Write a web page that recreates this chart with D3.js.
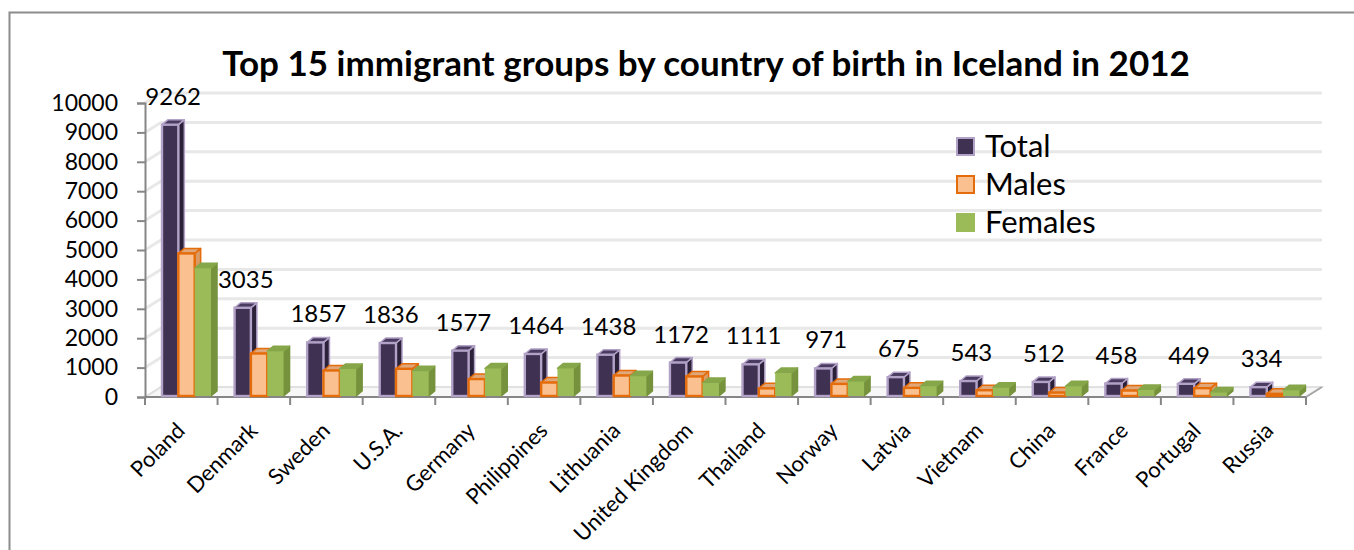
<!DOCTYPE html>
<html>
<head>
<meta charset="utf-8">
<script src="https://cdn.jsdelivr.net/npm/d3@7/dist/d3.min.js"></script>
<style>
  html, body { margin: 0; padding: 0; background: #fff; }
  svg { display: block; font-family: Lato, "Open Sans", sans-serif; }
</style>
</head>
<body>
<svg id="chart" width="1354" height="550"></svg>
<script>
// ---------------- data ----------------
const categories = ["Poland","Denmark","Sweden","U.S.A.","Germany","Philippines","Lithuania","United Kingdom","Thailand","Norway","Latvia","Vietnam","China","France","Portugal","Russia"];
const seriesNames = ["Total","Males","Females"];
const totals  = [9262,3035,1857,1836,1577,1464,1438,1172,1111,971,675,543,512,458,449,334];
const males   = [4883,1480,902,959,610,492,731,699,294,446,311,230,150,220,300,108];
const females = [4379,1555,955,877,967,972,707,473,817,525,364,313,362,238,149,226];
const yTicks  = [0,1000,2000,3000,4000,5000,6000,7000,8000,9000,10000];
const titleText = "Top 15 immigrant groups by country of birth in Iceland in 2012";

// ---------------- setup ----------------
const svg = d3.select("#chart");
const seriesValues = [totals, males, females];
const styles = {
  Total:   {front:"#3f3151", side:"#2b2139", top:"#4a3b60", stroke:"#b3a2c7"},
  Males:   {front:"#fac090", side:"#d99a66", top:"#e0a77a", stroke:"#e46c0a"},
  Females: {front:"#9bbb59", side:"#76923c", top:"#86a64a", stroke:"none"}
};

const x0 = d3.scaleBand().domain(categories).range([145, 1306]);
const x1 = d3.scaleBand().domain(seriesNames).range([17, 66]);
const y  = d3.scaleLinear().domain([0, 10000]).range([397, 103]);
const WDX = 16, WDY = 10;   // wall depth
const BDX = 6,  BDY = 5;    // bar depth

// border
svg.append("rect").attr("x", 9.5).attr("y", 12.5).attr("width", 1400).attr("height", 600)
  .attr("fill", "none").attr("stroke", "#8c8c8c").attr("stroke-width", 2);

// floor
const fx0 = x0.range()[0], fx1 = x0.range()[1], fy = y(0);
svg.append("polygon")
  .attr("points", [[fx0, fy],[fx0+WDX, fy-WDY],[fx1+WDX, fy-WDY],[fx1, fy]].map(p=>p.join(",")).join(" "))
  .attr("fill", "#f7f7f7").attr("stroke", "#d9d9d9").attr("stroke-width", 1.5);
svg.append("line").attr("x1", fx1).attr("y1", fy).attr("x2", fx1+WDX).attr("y2", fy-WDY)
  .attr("stroke", "#a6a6a6").attr("stroke-width", 2);

// gridlines (back wall + left wall)
const grid = svg.append("g");
yTicks.filter(t => t > 0).forEach(t => {
  grid.append("polyline")
    .attr("points", `${fx0},${y(t)} ${fx0+WDX},${y(t)-WDY} ${fx1+WDX},${y(t)-WDY}`)
    .attr("fill", "none").attr("stroke", "#e8e8e8").attr("stroke-width", 3);
});
grid.append("line").attr("x1", fx0).attr("y1", fy).attr("x2", fx0+WDX).attr("y2", fy-WDY)
  .attr("stroke", "#e0e0e0").attr("stroke-width", 2);

// y axis
const yAxis = svg.append("g").attr("transform", `translate(${fx0},0)`)
  .call(d3.axisLeft(y).tickValues(yTicks).tickSize(8).tickPadding(19).tickFormat(d3.format("d")));
yAxis.select(".domain").attr("stroke", "#868686").attr("stroke-width", 2);
yAxis.selectAll(".tick line").attr("stroke", "#868686").attr("stroke-width", 2);
yAxis.selectAll(".tick text").attr("font-size", 23).attr("fill", "#000").attr("font-family", "Lato");

// x axis
svg.append("line").attr("x1", fx0).attr("y1", fy).attr("x2", fx1).attr("y2", fy)
  .attr("stroke", "#868686").attr("stroke-width", 2);
const bounds = categories.map(c => x0(c)).concat([fx1]);
svg.append("g").selectAll("line").data(bounds).join("line")
  .attr("x1", d => d).attr("x2", d => d).attr("y1", fy).attr("y2", fy + 8)
  .attr("stroke", "#868686").attr("stroke-width", 2);

// bars
const bars = svg.append("g");
categories.forEach((c, i) => {
  seriesNames.forEach((s, k) => {
    const v = seriesValues[k][i];
    const st = styles[s];
    const bx = x0(c) + x1(s), bw = x1.bandwidth();
    const yt = y(v), yb = y(0) - 1;
    const g = bars.append("g");
    g.append("polygon")
      .attr("points", `${bx+bw},${yt} ${bx+bw+BDX},${yt-BDY} ${bx+bw+BDX},${yb-BDY} ${bx+bw},${yb}`)
      .attr("fill", st.side).attr("stroke", st.stroke === "none" ? st.side : st.stroke)
      .attr("stroke-width", 1.5).attr("stroke-linejoin", "round");
    g.append("polygon")
      .attr("points", `${bx},${yt} ${bx+BDX},${yt-BDY} ${bx+bw+BDX},${yt-BDY} ${bx+bw},${yt}`)
      .attr("fill", st.top).attr("stroke", st.stroke === "none" ? st.top : st.stroke)
      .attr("stroke-width", 1.5).attr("stroke-linejoin", "round");
    g.append("rect")
      .attr("x", bx).attr("y", yt).attr("width", bw).attr("height", Math.max(0, yb - yt))
      .attr("fill", st.front).attr("stroke", st.stroke)
      .attr("stroke-width", 2.4);
  });
});

// value labels (totals)
svg.append("g").selectAll("text").data(categories).join("text")
  .attr("x", (c) => x0(c) + x1("Total") + x1.bandwidth()/2 + 3)
  .attr("y", (c, i) => y(totals[i]) - 20)
  .attr("text-anchor", "middle").attr("font-size", 24).attr("fill", "#000")
  .text((c, i) => totals[i]);

// category labels
svg.append("g").selectAll("text").data(categories).join("text")
  .attr("transform", c => `translate(${x0(c) + x0.bandwidth()/2 + 5},432) rotate(-45)`)
  .attr("text-anchor", "end").attr("font-size", 22).attr("fill", "#000")
  .text(c => c);

// title
const title = svg.append("text").attr("x", 706).attr("y", 76).attr("text-anchor", "middle")
  .attr("font-weight", "bold").attr("font-size", 31).attr("fill", "#000").text(titleText);
const tw = title.node().getComputedTextLength();
title.attr("font-size", 31 * 968 / tw);

// legend
const legend = svg.append("g").attr("transform", "translate(957,0)");
const legendY = [146, 184, 222];
seriesNames.forEach((s, k) => {
  const st = styles[s];
  legend.append("rect").attr("x", 0).attr("y", legendY[k] - 8).attr("width", 17).attr("height", 17)
    .attr("fill", st.front).attr("stroke", st.stroke === "none" ? st.front : st.stroke).attr("stroke-width", 2);
  legend.append("text").attr("x", 28).attr("y", legendY[k] + 11).attr("font-size", 31).attr("fill", "#000").text(s);
});
</script>
</body>
</html>
